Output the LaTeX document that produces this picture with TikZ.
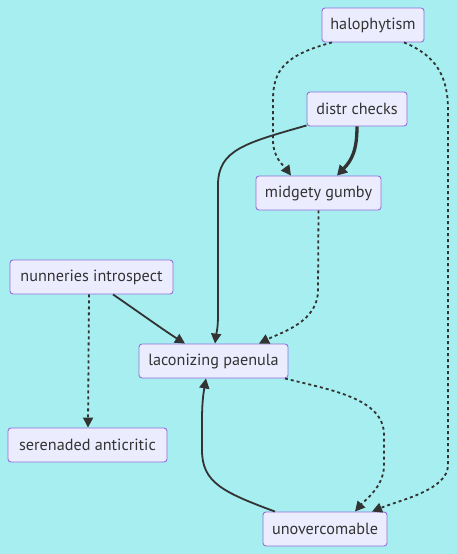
\documentclass[tikz,border=0pt]{standalone}
\usepackage{fontspec}
\setmainfont{PT Sans}
\usetikzlibrary{arrows.meta,calc}
\definecolor{bg}{HTML}{A6EEF0}
\definecolor{nfill}{HTML}{ECECFF}
\definecolor{nline}{HTML}{9370DB}
\definecolor{ink}{HTML}{333333}
\tikzset{
  box/.style={draw=nline, fill=nfill, line width=0.9pt, rounded corners=3pt,
    minimum width=#1, minimum height=34pt, inner sep=0pt, text=ink,
    font=\fontsize{16.2}{19}\selectfont},
  link/.style={draw=ink, line width=1.8pt, -{Triangle[length=10pt,width=10pt]}},
  dotlink/.style={link, dash pattern=on 3pt off 3pt},
  thicklink/.style={link, line width=3.3pt, -{Triangle[length=10pt,width=11pt]}},
}
\begin{document}
\begin{tikzpicture}[x=1pt,y=-1pt]
\useasboundingbox[fill=bg] (0,0) rectangle (457,554);
\node[box=102pt] (halo) at (373,25) {halophytism};
\node[box=100pt] (dist) at (357,109) {distr checks};
\node[box=125pt] (mid) at (318.5,193) {midgety gumby};
\node[box=163pt] (nun) at (91.5,277) {nunneries introspect};
\node[box=149pt] (lac) at (213.5,361) {laconizing paenula};
\node[box=159pt] (ser) at (87.5,445) {serenaded anticritic};
\node[box=124pt] (unov) at (325,529) {unovercomable};

% halophytism -> midgety gumby
\draw[dotlink] ($(halo.south)+(-41,0)$) .. controls (285,55) and (273,70) .. (273,100) -- (273,140) .. controls (273,158) and (284,166) .. ($(mid.north)+(-27.5,0)$);
% halophytism -> unovercomable
\draw[dotlink] ($(halo.south)+(31,0)$) .. controls (435,55) and (448,75) .. (448,110) -- (448,465) .. controls (448,490) and (400,500) .. ($(unov.north)+(47,0)$);
% distr checks -> midgety gumby
\draw[thicklink] (dist.south) .. controls (357,150) and (352,160) .. ($(mid.north)+(18.5,0)$);
% distr checks -> laconizing paenula
\draw[link] ($(dist.south west)+(0,-1)$) .. controls (245,143) and (218,150) .. (218,185) -- (218,315) .. controls (218,330) and (216,335) .. ($(lac.north)+(1.5,0)$);
% midgety gumby -> laconizing paenula
\draw[dotlink] (mid.south) -- (318,290) .. controls (318,322) and (282,332) .. ($(lac.north)+(45.5,0)$);
% nunneries introspect -> laconizing paenula
\draw[link] ($(nun.south)+(21.5,0)$) .. controls (140,313) and (165,331) .. ($(lac.north)+(-28.5,0)$);
% nunneries introspect -> serenaded anticritic
\draw[dotlink] ($(nun.south)+(-2.5,0)$) -- ($(ser.north)+(0.5,0)$);
% laconizing paenula -> unovercomable
\draw[dotlink] ($(lac.south east)+(-3.5,0)$) .. controls (330,390) and (384,398) .. (384,435) -- (384,465) .. controls (384,487) and (365,500) .. ($(unov.north)+(30,0)$);
% unovercomable -> laconizing paenula
\draw[link] ($(unov.north)+(-50,0)$) .. controls (222,492) and (202,482) .. (202,450) -- (202,420) .. controls (202,400) and (204,390) .. ($(lac.south)+(-7.5,0)$);
\end{tikzpicture}
\end{document}
